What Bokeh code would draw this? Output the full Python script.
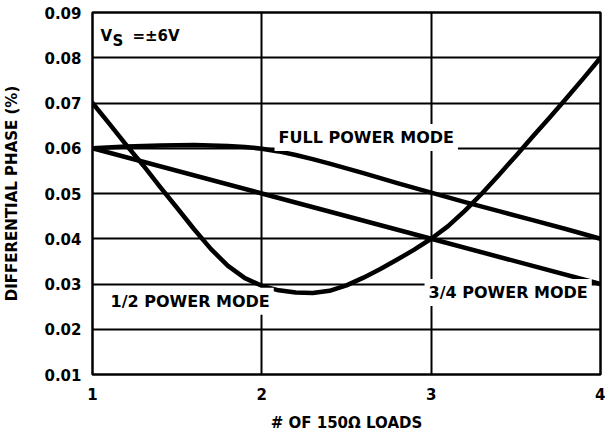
from bokeh.plotting import figure
from bokeh.models import Label, FixedTicker, NumeralTickFormatter, Range1d
from bokeh.embed import file_html
from bokeh.resources import INLINE

# ---- data ----
x_ticks = [1, 2, 3, 4]
y_ticks = [0.01, 0.02, 0.03, 0.04, 0.05, 0.06, 0.07, 0.08, 0.09]

full_x = [1.0, 1.2, 1.4, 1.6, 1.8, 1.9, 2.0, 2.1, 2.2, 2.3, 2.4, 2.6, 2.8, 3.0, 3.2,
          3.4, 3.6, 3.8, 4.0]
full_y = [0.0600, 0.0604, 0.0606, 0.0607, 0.0605, 0.0603, 0.0599, 0.0593, 0.0585,
          0.0576, 0.0566, 0.0545, 0.0523, 0.0502, 0.0481, 0.0461, 0.0441, 0.0421, 0.0400]

three_q_x = [1.0, 2.0, 3.0, 4.0]
three_q_y = [0.060, 0.050, 0.040, 0.030]

half_x = [1.0, 1.1, 1.2, 1.3, 1.4, 1.5, 1.6, 1.7, 1.8, 1.9, 2.0, 2.1, 2.2, 2.3, 2.4,
          2.5, 2.6, 2.7, 2.8, 2.9, 3.0, 3.1, 3.2, 3.3, 3.4, 3.5, 3.6, 3.7, 3.8, 3.9, 4.0]
half_y = [0.0700, 0.0654, 0.0607, 0.0562, 0.0514, 0.0468, 0.0421, 0.0377, 0.0340,
          0.0313, 0.0296, 0.0286, 0.0281, 0.0280, 0.0285, 0.0297, 0.0314, 0.0333,
          0.0354, 0.0376, 0.0400, 0.0428, 0.0462, 0.0500, 0.0541, 0.0583, 0.0626,
          0.0668, 0.0711, 0.0755, 0.0800]

FONT = "DejaVu Sans"

p = figure(frame_width=508, frame_height=362, output_backend="svg", toolbar_location=None,
           x_range=Range1d(1, 4), y_range=Range1d(0.01, 0.09),
           min_border_left=84, min_border_right=5, min_border_top=12, min_border_bottom=50)

p.background_fill_color = "white"
p.border_fill_color = "white"
p.outline_line_color = "black"
p.outline_line_width = 2.5

p.xaxis.ticker = FixedTicker(ticks=x_ticks)
p.yaxis.ticker = FixedTicker(ticks=y_ticks)
p.yaxis.formatter = NumeralTickFormatter(format="0.00")

for ax in (p.xaxis[0], p.yaxis[0]):
    ax.axis_line_color = None
    ax.major_tick_line_color = None
    ax.minor_tick_line_color = None
    ax.major_label_text_font = FONT
    ax.major_label_text_font_style = "bold"
    ax.major_label_text_font_size = "15px"
    ax.major_label_text_color = "black"
    ax.axis_label_text_font = FONT
    ax.axis_label_text_font_style = "bold"
    ax.axis_label_text_font_size = "15px"
    ax.axis_label_text_color = "black"

p.xaxis.axis_label = "# OF 150Ω LOADS"
p.yaxis.axis_label = "DIFFERENTIAL PHASE (%)"
p.xaxis.major_label_standoff = 7
p.xaxis.axis_label_standoff = 11
p.yaxis.major_label_standoff = 5
p.yaxis.axis_label_standoff = 20

p.xgrid.ticker = FixedTicker(ticks=x_ticks)
p.ygrid.ticker = FixedTicker(ticks=y_ticks)
p.grid.grid_line_color = "black"
p.grid.grid_line_width = 2
p.grid.grid_line_alpha = 1.0

lw = 4.5
p.line(full_x, full_y, line_color="black", line_width=lw, line_join="round", line_cap="round")
p.line(three_q_x, three_q_y, line_color="black", line_width=lw, line_join="round", line_cap="round")
p.line(half_x, half_y, line_color="black", line_width=lw, line_join="round", line_cap="round")

def lab(x, y, text, size="15px", **kw):
    l = Label(x=x, y=y, text=text, text_font=FONT, text_font_style="bold",
              text_font_size=size, text_color="black", **kw)
    p.add_layout(l)
    return l

common_bg = dict(background_fill_color="white", background_fill_alpha=1.0,
                 text_baseline="middle", text_align="left", padding=4)
lab(2.075, 0.0624, "FULL POWER MODE", size="16px", **common_bg)
lab(1.083, 0.0262, "1/2 POWER MODE", size="16px", **common_bg)
lab(2.961, 0.0281, "3/4 POWER MODE", size="16px", **common_bg)

# V_S = ±6V
lab(1.047, 0.0847, "V", text_baseline="alphabetic")
lab(1.047, 0.0847, "S", text_baseline="alphabetic", x_offset=12, y_offset=-5)
lab(1.047, 0.0847, "=±6V", text_baseline="alphabetic", x_offset=32)

open("out.html", "w").write(file_html(p, INLINE))
